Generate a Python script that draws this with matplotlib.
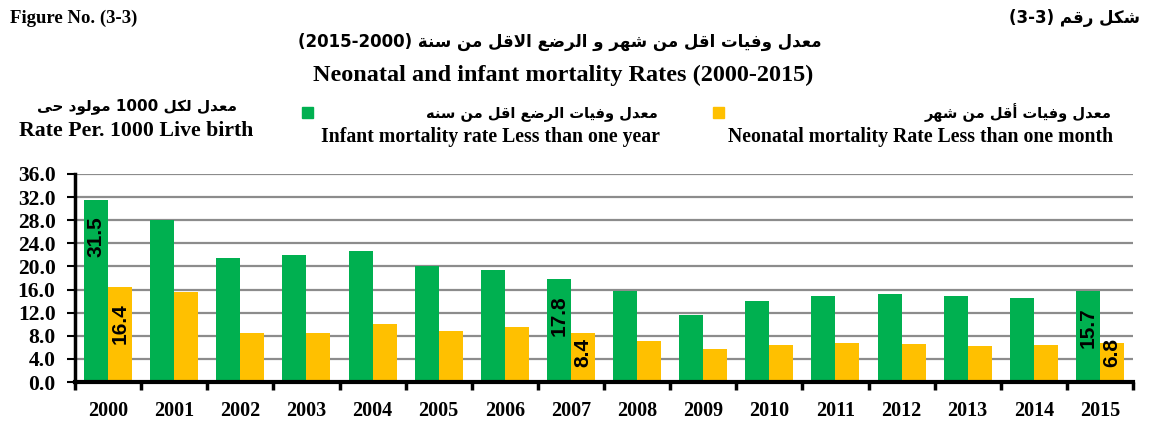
import numpy as np
import matplotlib
matplotlib.use('Agg')
import matplotlib.pyplot as plt

years = ['2000', '2001', '2002', '2003', '2004', '2005', '2006', '2007',
         '2008', '2009', '2010', '2011', '2012', '2013', '2014', '2015']
infant = [31.5, 28.1, 21.4, 21.9, 22.6, 20.1, 19.4, 17.8,
          15.7, 11.6, 14.0, 14.8, 15.2, 14.9, 14.6, 15.7]
neonatal = [16.4, 15.6, 8.5, 8.4, 10.0, 8.8, 9.6, 8.4,
            7.1, 5.7, 6.4, 6.7, 6.5, 6.3, 6.4, 6.8]
# only these bars carry a value label in the original
labelled = ['2000', '2007', '2015']

GREEN = '#00B050'
YELLOW = '#FFC000'

# arabic presentation forms: isolated, final, initial, medial
FORMS = {
    'ا': ('\uFE8D', '\uFE8E'), 'أ': ('\uFE83', '\uFE84'),
    'د': ('\uFEA9', '\uFEAA'), 'ر': ('\uFEAD', '\uFEAE'),
    'و': ('\uFEED', '\uFEEE'), 'ى': ('\uFEEF', '\uFEF0'),
    'ة': ('\uFE93', '\uFE94'),
    'ت': ('\uFE95', '\uFE96', '\uFE97', '\uFE98'),
    'ح': ('\uFEA1', '\uFEA2', '\uFEA3', '\uFEA4'),
    'س': ('\uFEB1', '\uFEB2', '\uFEB3', '\uFEB4'),
    'ش': ('\uFEB5', '\uFEB6', '\uFEB7', '\uFEB8'),
    'ض': ('\uFEBD', '\uFEBE', '\uFEBF', '\uFEC0'),
    'ع': ('\uFEC9', '\uFECA', '\uFECB', '\uFECC'),
    'ف': ('\uFED1', '\uFED2', '\uFED3', '\uFED4'),
    'ق': ('\uFED5', '\uFED6', '\uFED7', '\uFED8'),
    'ك': ('\uFED9', '\uFEDA', '\uFEDB', '\uFEDC'),
    'ل': ('\uFEDD', '\uFEDE', '\uFEDF', '\uFEE0'),
    'م': ('\uFEE1', '\uFEE2', '\uFEE3', '\uFEE4'),
    'ن': ('\uFEE5', '\uFEE6', '\uFEE7', '\uFEE8'),
    'ه': ('\uFEE9', '\uFEEA', '\uFEEB', '\uFEEC'),
    'ي': ('\uFEF1', '\uFEF2', '\uFEF3', '\uFEF4'),
}
LAM_ALEF = {'ا': ('\uFEFB', '\uFEFC'), 'أ': ('\uFEF7', '\uFEF8')}


def ar(text):
    # shape arabic letters and put them in visual (left to right) order
    chars = list(text)
    out = []
    i = 0
    while i < len(chars):
        c = chars[i]
        if c not in FORMS:
            out.append(c)
            i += 1
            continue
        prev = chars[i - 1] if i > 0 else ''
        join_prev = prev in FORMS and len(FORMS[prev]) == 4
        if c == 'ل' and i + 1 < len(chars) and chars[i + 1] in LAM_ALEF:
            out.append(LAM_ALEF[chars[i + 1]][1 if join_prev else 0])
            i += 2
            continue
        nxt = chars[i + 1] if i + 1 < len(chars) else ''
        join_next = len(FORMS[c]) == 4 and nxt in FORMS
        f = FORMS[c]
        if join_prev and join_next:
            out.append(f[3])
        elif join_prev:
            out.append(f[1])
        elif join_next:
            out.append(f[2])
        else:
            out.append(f[0])
        i += 1
    # reverse, but keep digit runs left to right
    words = ''.join(out)[::-1].split(' ')
    words = [w[::-1] if w.isdigit() else w for w in words]
    return ' '.join(words)


plt.rcParams['font.family'] = ['Liberation Serif', 'DejaVu Serif']
plt.rcParams['font.weight'] = 'bold'

fig = plt.figure(figsize=(11.62, 4.24), dpi=100)
W, H = 1162.0, 424.0
ax = fig.add_axes([75 / W, 42 / H, 1058 / W, 208 / H])

x = np.arange(len(years))
w = 0.363
ax.bar(x - w / 2, infant, w, color=GREEN, zorder=3)
ax.bar(x + w / 2, neonatal, w, color=YELLOW, zorder=3)

for i, yr in enumerate(years):
    if yr not in labelled:
        continue
    for xpos, val in ((x[i] - w / 2, infant[i]), (x[i] + w / 2, neonatal[i])):
        ytop = max(val - 2.8, 7.6)
        ax.text(xpos, ytop, '%.1f' % val, rotation=90, ha='center', va='top',
                fontsize=15, fontweight='bold', family='Liberation Sans',
                color='black', zorder=4)

ax.set_xlim(-0.5, len(years) - 0.5)
ax.set_ylim(0, 36)
ax.set_yticks(np.arange(0, 36.1, 4))
ax.set_yticklabels(['%.1f' % v for v in np.arange(0, 36.1, 4)])
ax.set_xticks(x)
ax.set_xticklabels(years)
ax.set_xticks(np.arange(-0.5, len(years), 1), minor=True)
ax.tick_params(axis='x', which='major', length=0, pad=14, labelsize=14.5)
ax.tick_params(axis='x', which='minor', length=6, width=2.5, direction='out')
ax.tick_params(axis='y', length=6, width=1.5, labelsize=15.5, pad=8)
ax.grid(axis='y', color='#8c8c8c', linewidth=1.6, zorder=0)
for s in ['top', 'right']:
    ax.spines[s].set_visible(False)
ax.spines['left'].set_linewidth(2.5)
ax.spines['bottom'].set_linewidth(3)
ax.spines['bottom'].set_zorder(5)


def ftext(px, py, s, **kw):
    fig.text(px / W, 1 - py / H, s, **kw)


arab = ['DejaVu Sans']
ftext(10, 18, 'Figure No. (3-3)', fontsize=13.5, ha='left', va='center')
ftext(1140, 18, '(3-3) ' + ar('شكل رقم'), fontsize=12, ha='right', va='center',
      family=arab)
ftext(560, 42, '(2015-2000) ' + ar('معدل وفيات اقل من شهر و الرضع الاقل من سنة'),
      fontsize=12, ha='center', va='center', family=arab)
ftext(563, 75, 'Neonatal and infant mortality Rates (2000-2015)', fontsize=17.5,
      ha='center', va='center')
ftext(137, 106, ar('معدل لكل 1000 مولود حى'), fontsize=11, ha='center',
      va='center', family=arab)
ftext(136, 131, 'Rate Per. 1000 Live birth', fontsize=15.7, ha='center',
      va='center')

# legend, drawn by hand as in the original layout
fig.patches.append(plt.Rectangle((302 / W, 1 - 118 / H), 11 / W, 11 / H,
                                 color=GREEN, transform=fig.transFigure))
ftext(658, 113, ar('معدل وفيات الرضع اقل من سنه'), fontsize=10.5, ha='right',
      va='center', family=arab)
ftext(490, 137, 'Infant mortality rate Less than one year', fontsize=14.2,
      ha='center', va='center')
fig.patches.append(plt.Rectangle((713 / W, 1 - 118 / H), 11 / W, 11 / H,
                                 color=YELLOW, transform=fig.transFigure))
ftext(1112, 113, ar('معدل وفيات أقل من شهر'), fontsize=10.5, ha='right',
      va='center', family=arab)
ftext(921, 137, 'Neonatal mortality Rate Less than one month', fontsize=14.2,
      ha='center', va='center')

fig.savefig('out.png', dpi=100)
